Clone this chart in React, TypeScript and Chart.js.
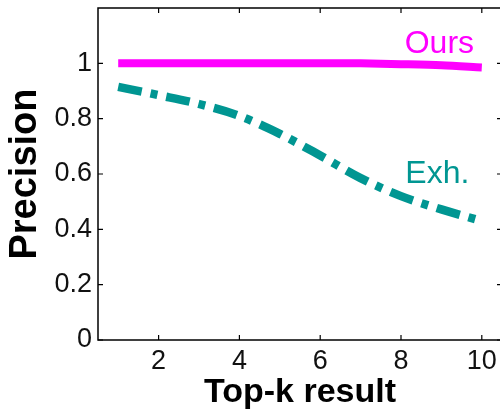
import React, { useEffect, useRef } from "react";
import { Chart, registerables } from "chart.js";

Chart.register(...registerables);

// ---- data ----
const topK = [1, 2, 3, 4, 5, 6, 7, 8, 9, 10];
const oursPrecision = [1, 1, 1, 1, 1, 1, 1, 0.997, 0.993, 0.985];
const exhPrecision = [0.915, 0.885, 0.853, 0.81, 0.745, 0.667, 0.585, 0.52, 0.472, 0.43];
const xTickValues = [2, 4, 6, 8, 10];
const yTickValues = [0, 0.2, 0.4, 0.6, 0.8, 1];
const seriesNames = ["Ours", "Exh."];
const xTitle = "Top-k result";
const yTitle = "Precision";

// label anchors (data coordinates)
const labelAnchorX = [8.95, 8.9];
const labelAnchorY = [1.07, 0.6];

const FONT = "'Liberation Sans', Arial, Helvetica, sans-serif";
const OURS_COLOR = "#ff00ff";
const EXH_COLOR = "rgb(0,150,146)";

const framePlugin = {
  id: "frameTicks",
  afterDatasetsDraw(chart: any) {
    const { ctx, chartArea, scales } = chart;
    const { left, right, top, bottom } = chartArea;
    const x = scales.x;
    const y = scales.y;
    ctx.save();
    ctx.strokeStyle = "#000";
    ctx.lineWidth = 1.5;
    ctx.strokeRect(left, top, right - left, bottom - top);
    ctx.lineWidth = 1.2;
    const tl = 5;
    ctx.beginPath();
    x.ticks.forEach((t: any) => {
      const px = x.getPixelForValue(t.value);
      ctx.moveTo(px, bottom);
      ctx.lineTo(px, bottom - tl);
      ctx.moveTo(px, top);
      ctx.lineTo(px, top + tl);
    });
    y.ticks.forEach((t: any) => {
      const py = y.getPixelForValue(t.value);
      ctx.moveTo(left, py);
      ctx.lineTo(left + tl, py);
      ctx.moveTo(right, py);
      ctx.lineTo(right - tl, py);
    });
    ctx.stroke();

    ctx.font = `32px ${FONT}`;
    ctx.textAlign = "center";
    ctx.textBaseline = "middle";
    const colors = [OURS_COLOR, EXH_COLOR];
    seriesNames.forEach((name, i) => {
      ctx.fillStyle = colors[i];
      ctx.fillText(
        name,
        x.getPixelForValue(labelAnchorX[i]),
        y.getPixelForValue(labelAnchorY[i])
      );
    });
    ctx.restore();
  },
};

export default function App() {
  const canvasRef = useRef<HTMLCanvasElement | null>(null);

  useEffect(() => {
    const canvas = canvasRef.current;
    if (!canvas) return;
    Chart.defaults.font.family = FONT;
    const chart = new Chart(canvas, {
      type: "line",
      data: {
        datasets: [
          {
            label: seriesNames[0],
            data: topK.map((k, i) => ({ x: k, y: oursPrecision[i] })),
            borderColor: OURS_COLOR,
            backgroundColor: OURS_COLOR,
            borderWidth: 8,
            pointRadius: 0,
            tension: 0.3,
            borderCapStyle: "butt",
            fill: false,
          },
          {
            label: seriesNames[1],
            data: topK.map((k, i) => ({ x: k, y: exhPrecision[i] })),
            borderColor: EXH_COLOR,
            backgroundColor: EXH_COLOR,
            borderWidth: 8.5,
            borderDash: [24, 9, 7, 9],
            pointRadius: 0,
            cubicInterpolationMode: "monotone",
            borderCapStyle: "butt",
            fill: false,
          },
        ],
      },
      options: {
        responsive: false,
        animation: false,
        devicePixelRatio: 1,
        layout: { padding: { top: 8, right: 1, left: 0, bottom: 0 } },
        plugins: {
          legend: { display: false },
          tooltip: { enabled: false },
        },
        scales: {
          x: {
            type: "linear",
            min: 0.5,
            max: 10.5,
            afterBuildTicks: (axis: any) => {
              axis.ticks = xTickValues.map((v) => ({ value: v }));
            },
            afterFit: (axis: any) => {
              axis.height = 71;
              axis.paddingLeft = 0;
              axis.paddingRight = 0;
            },
            grid: { display: false, drawTicks: false },
            border: { display: false },
            ticks: {
              color: "#111",
              font: { size: 27 },
              padding: 5,
              maxRotation: 0,
              autoSkip: false,
              callback: (v: any) => String(v),
            },
            title: {
              display: true,
              text: xTitle,
              color: "#000",
              font: { size: 34, weight: "bold", lineHeight: 1.1 },
              padding: { top: 0, bottom: 0 },
            },
          },
          y: {
            type: "linear",
            min: 0,
            max: 1.2,
            afterBuildTicks: (axis: any) => {
              axis.ticks = yTickValues.map((v) => ({ value: v }));
            },
            afterFit: (axis: any) => {
              axis.width = 98;
              axis.paddingTop = 0;
              axis.paddingBottom = 0;
            },
            grid: { display: false, drawTicks: false },
            border: { display: false },
            ticks: {
              color: "#111",
              font: { size: 27 },
              padding: 6,
              autoSkip: false,
              callback: (v: any) => String(v),
            },
            title: {
              display: true,
              text: yTitle,
              color: "#000",
              font: { size: 38, weight: "bold", lineHeight: 1.1 },
              padding: { top: 5, bottom: 0 },
            },
          },
        },
      },
      plugins: [framePlugin],
    } as any);
    return () => chart.destroy();
  }, []);

  return (
    <div
      style={{
        position: "absolute",
        left: 0,
        top: 0,
        width: 500,
        height: 411,
        overflow: "hidden",
        background: "#fff",
      }}
    >
      <canvas
        ref={canvasRef}
        width={503}
        height={411}
        style={{ display: "block", width: 503, height: 411 }}
      />
    </div>
  );
}
